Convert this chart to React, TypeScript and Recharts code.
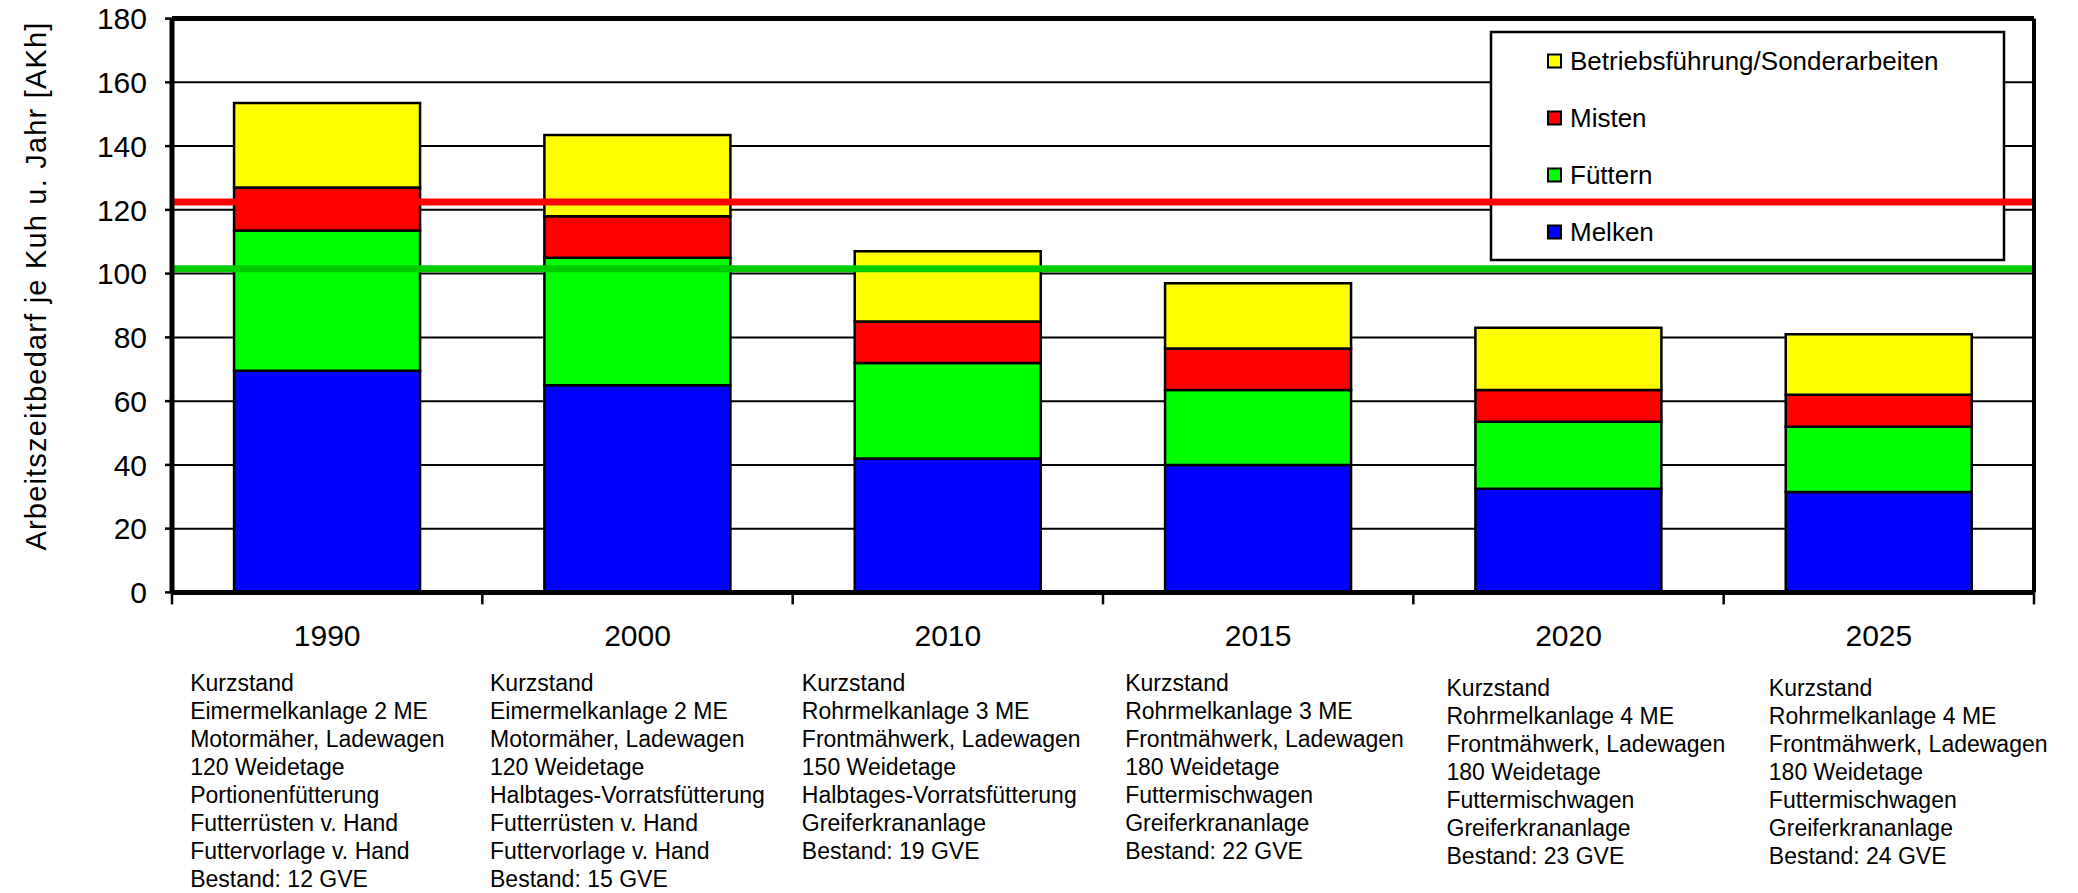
import { BarChart, Bar, XAxis, YAxis, CartesianGrid, ReferenceLine, Customized } from "recharts";

const years = ["1990", "2000", "2010", "2015", "2020", "2025"];
const melken = [69.5, 65, 42, 40, 32.5, 31.5];
const fuettern = [44, 40, 30, 23.5, 21, 20.5];
const misten = [13.5, 13, 13, 13, 10, 10];
const betrieb = [26.5, 25.5, 22, 20.5, 19.5, 19];
const yTicks = [0, 20, 40, 60, 80, 100, 120, 140, 160, 180];
const redTarget = 122.5;
const greenTarget = 101.5;

const notes = [
  ["Kurzstand", "Eimermelkanlage 2 ME", "Motormäher, Ladewagen", "120 Weidetage", "Portionenfütterung", "Futterrüsten v. Hand", "Futtervorlage v. Hand", "Bestand: 12 GVE"],
  ["Kurzstand", "Eimermelkanlage 2 ME", "Motormäher, Ladewagen", "120 Weidetage", "Halbtages-Vorratsfütterung", "Futterrüsten v. Hand", "Futtervorlage v. Hand", "Bestand: 15 GVE"],
  ["Kurzstand", "Rohrmelkanlage 3 ME", "Frontmähwerk, Ladewagen", "150 Weidetage", "Halbtages-Vorratsfütterung", "Greiferkrananlage", "Bestand: 19 GVE"],
  ["Kurzstand", "Rohrmelkanlage 3 ME", "Frontmähwerk, Ladewagen", "180 Weidetage", "Futtermischwagen", "Greiferkrananlage", "Bestand: 22 GVE"],
  ["Kurzstand", "Rohrmelkanlage 4 ME", "Frontmähwerk, Ladewagen", "180 Weidetage", "Futtermischwagen", "Greiferkrananlage", "Bestand: 23 GVE"],
  ["Kurzstand", "Rohrmelkanlage 4 ME", "Frontmähwerk, Ladewagen", "180 Weidetage", "Futtermischwagen", "Greiferkrananlage", "Bestand: 24 GVE"],
];

const series = [
  { key: "melken", name: "Melken", color: "#0000FF" },
  { key: "fuettern", name: "Füttern", color: "#00FF00" },
  { key: "misten", name: "Misten", color: "#FF0000" },
  { key: "betrieb", name: "Betriebsführung/Sonderarbeiten", color: "#FFFF00" },
];

const data = years.map((year, i) => ({
  year,
  melken: melken[i],
  fuettern: fuettern[i],
  misten: misten[i],
  betrieb: betrieb[i],
}));

// layout
const W = 2078;
const H = 893;
const LEFT = 172;
const RIGHT_W = 44;
const BAND = (W - LEFT - RIGHT_W) / years.length;
const noteDx = [-137, -147.5, -146, -133, -122, -110];
const noteDy = [0, 0, 0, 0, 5, 5];
const FONT = "'Liberation Sans', Arial, sans-serif";

function YearTick(props: any) {
  const { x, y, payload } = props;
  const i = years.indexOf(payload.value);
  const left = x - BAND / 2;
  return (
    <g>
      <line x1={left} x2={left} y1={y} y2={y + 12} stroke="#000" strokeWidth={2.5} />
      {i === years.length - 1 && (
        <line x1={x + BAND / 2} x2={x + BAND / 2} y1={y} y2={y + 12} stroke="#000" strokeWidth={2.5} />
      )}
      <text x={x} y={y + 43} textAnchor="middle" dominantBaseline="central" fontSize={30} fontFamily={FONT} fill="#000">
        {payload.value}
      </text>
      {notes[i].map((line, k) => (
        <text
          key={k}
          x={x + noteDx[i]}
          y={y + 91 + noteDy[i] + k * 28}
          dominantBaseline="central"
          fontSize={23}
          fontFamily={FONT}
          fill="#000"
        >
          {line}
        </text>
      ))}
    </g>
  );
}

function LegendBox() {
  const items = [...series].reverse();
  return (
    <g>
      <rect x={1491} y={32} width={513} height={228} fill="#fff" stroke="#000" strokeWidth={2.5} />
      {items.map((s, k) => (
        <g key={s.key}>
          <rect x={1548} y={61 + k * 57 - 6.5} width={13} height={13} fill={s.color} stroke="#000" strokeWidth={2} />
          <text x={1570} y={61 + k * 57} dominantBaseline="central" fontSize={26} fontFamily={FONT} fill="#000">
            {s.name}
          </text>
        </g>
      ))}
    </g>
  );
}

export default function App() {
  return (
    <div style={{ position: "absolute", left: 0, top: 0, width: W, height: H, background: "#fff" }}>
      <BarChart
        width={W}
        height={H}
        data={data}
        margin={{ top: 18.6, right: 0, bottom: 20.6, left: 0 }}
        barCategoryGap="20%"
      >
        <CartesianGrid horizontal vertical={false} stroke="#000" strokeWidth={2} />
        <XAxis
          dataKey="year"
          height={280}
          axisLine={{ stroke: "#000", strokeWidth: 5 }}
          tickLine={false}
          tickSize={0}
          tickMargin={0}
          interval={0}
          tick={<YearTick />}
        />
        <YAxis
          width={LEFT}
          domain={[0, 180]}
          ticks={yTicks}
          interval={0}
          axisLine={{ stroke: "#000", strokeWidth: 5 }}
          tickLine={{ stroke: "#000", strokeWidth: 2.5 }}
          tickSize={7}
          tickMargin={18}
          tick={{ fill: "#000", fontSize: 30, fontFamily: FONT }}
          label={{
            content: () => (
              <text
                x={36}
                y={286}
                transform="rotate(-90, 36, 286)"
                textAnchor="middle"
                dominantBaseline="central"
                fontSize={29}
                letterSpacing={1.2}
                fontFamily={FONT}
                fill="#000"
              >
                Arbeitszeitbedarf je Kuh u. Jahr [AKh]
              </text>
            ),
          }}
        />
        <YAxis
          yAxisId="right"
          orientation="right"
          width={RIGHT_W}
          domain={[0, 180]}
          tick={false}
          tickLine={false}
          axisLine={{ stroke: "#000", strokeWidth: 4 }}
        />
        {series.map((s) => (
          <Bar
            key={s.key}
            dataKey={s.key}
            name={s.name}
            stackId="a"
            fill={s.color}
            stroke="#000"
            strokeWidth={2.5}
            isAnimationActive={false}
          />
        ))}
        <Customized component={<LegendBox />} />
        <ReferenceLine y={180} stroke="#000" strokeWidth={5} />
        <ReferenceLine y={redTarget} stroke="#FF0000" strokeWidth={7} />
        <ReferenceLine y={greenTarget} stroke="#00CC00" strokeWidth={7} />
      </BarChart>
    </div>
  );
}
